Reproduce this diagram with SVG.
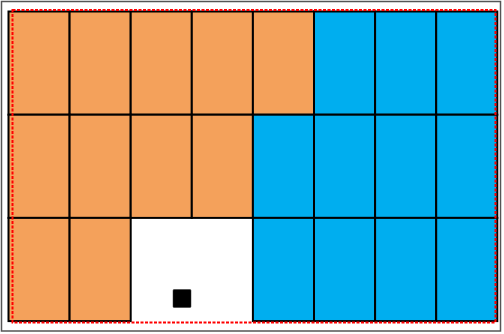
<svg xmlns="http://www.w3.org/2000/svg" width="504" height="334" viewBox="0 0 504 334">
<style>
.o{fill:#F4A15B;stroke:#000;stroke-width:2}
.b{fill:#00AEEF;stroke:#000;stroke-width:2}
</style>
<rect width="504" height="334" fill="#fff"/>
<rect id="frame" x="1.5" y="1.5" width="499" height="329.5" fill="none" stroke="#555" stroke-width="1.5"/>
<g id="row0">
<rect class="o" x="8.5" y="11.5" width="61.1" height="103.2"/>
<rect class="o" x="69.6" y="11.5" width="61.1" height="103.2"/>
<rect class="o" x="130.7" y="11.5" width="61.1" height="103.2"/>
<rect class="o" x="191.8" y="11.5" width="61.1" height="103.2"/>
<rect class="o" x="252.9" y="11.5" width="61.1" height="103.2"/>
<rect class="b" x="314" y="11.5" width="61.1" height="103.2"/>
<rect class="b" x="375.1" y="11.5" width="61.1" height="103.2"/>
<rect class="b" x="436.2" y="11.5" width="61.1" height="103.2"/>
</g>
<g id="row1">
<rect class="o" x="8.5" y="114.7" width="61.1" height="103.2"/>
<rect class="o" x="69.6" y="114.7" width="61.1" height="103.2"/>
<rect class="o" x="130.7" y="114.7" width="61.1" height="103.2"/>
<rect class="o" x="191.8" y="114.7" width="61.1" height="103.2"/>
<rect class="b" x="252.9" y="114.7" width="61.1" height="103.2"/>
<rect class="b" x="314" y="114.7" width="61.1" height="103.2"/>
<rect class="b" x="375.1" y="114.7" width="61.1" height="103.2"/>
<rect class="b" x="436.2" y="114.7" width="61.1" height="103.2"/>
</g>
<g id="row2">
<rect class="o" x="8.5" y="217.9" width="61.1" height="103.2"/>
<rect class="o" x="69.6" y="217.9" width="61.1" height="103.2"/>
<rect class="b" x="252.9" y="217.9" width="61.1" height="103.2"/>
<rect class="b" x="314" y="217.9" width="61.1" height="103.2"/>
<rect class="b" x="375.1" y="217.9" width="61.1" height="103.2"/>
<rect class="b" x="436.2" y="217.9" width="61.1" height="103.2"/>
</g>
<g id="marker">
<rect x="173" y="289.5" width="18" height="18" rx="1" fill="#000" stroke="#333" stroke-width="0.5"/>
</g>
<rect id="bounds" x="12.5" y="10" width="483" height="312.5" fill="none" stroke="#f00" stroke-width="2" stroke-dasharray="3,1.5"/>
</svg>
